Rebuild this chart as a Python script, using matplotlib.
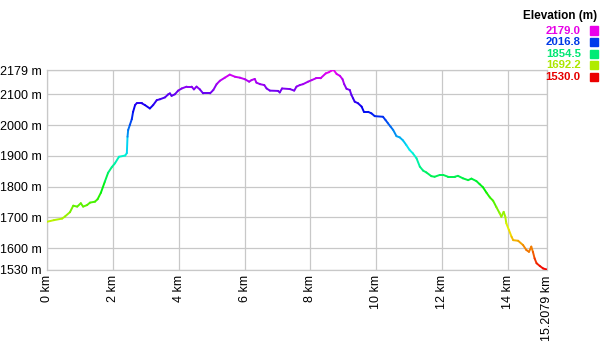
import matplotlib
matplotlib.use("Agg")
import matplotlib.pyplot as plt
import numpy as np
from matplotlib.collections import LineCollection
from matplotlib.colors import hsv_to_rgb

plt.rcParams['font.family'] = ['Liberation Sans', 'DejaVu Sans']

# elevation profile
dist_km = [0.0, 0.20, 0.45, 0.54, 0.69, 0.79, 0.91, 1.02, 1.09, 1.21, 1.30, 1.45, 1.53,
           1.63, 1.75, 1.85, 1.96, 2.06, 2.18, 2.37, 2.42, 2.44, 2.46, 2.51, 2.57, 2.61,
           2.67, 2.72, 2.87, 2.97, 3.12, 3.22, 3.33, 3.43, 3.58, 3.68, 3.73, 3.78, 3.88,
           3.98, 4.09, 4.24, 4.39, 4.46, 4.54, 4.64, 4.74, 4.95, 5.05, 5.15, 5.25, 5.40,
           5.55, 5.71, 5.86, 6.01, 6.14, 6.21, 6.31, 6.36, 6.47, 6.60, 6.67, 6.77, 7.02,
           7.07, 7.14, 7.38, 7.51, 7.58, 7.68, 7.78, 7.93, 8.04, 8.17, 8.31, 8.47, 8.57,
           8.64, 8.71, 8.80, 8.90, 8.98, 9.03, 9.10, 9.20, 9.25, 9.30, 9.35, 9.45, 9.56,
           9.63, 9.76, 9.86, 9.96, 10.21, 10.29, 10.36, 10.44, 10.52, 10.62, 10.72, 10.82,
           10.92, 11.02, 11.12, 11.23, 11.33, 11.43, 11.53, 11.68, 11.78, 11.94, 12.04,
           12.19, 12.39, 12.49, 12.64, 12.80, 12.90, 13.05, 13.15, 13.25, 13.36, 13.46,
           13.56, 13.66, 13.76, 13.81, 13.88, 13.93, 13.96, 14.04, 14.12, 14.17, 14.32,
           14.47, 14.57, 14.65, 14.72, 14.77, 14.82, 14.88, 14.98, 15.08, 15.2079]
elev_m = [1686, 1691, 1696, 1703, 1717, 1738, 1735, 1746, 1735, 1740, 1748, 1751, 1759,
          1780, 1816, 1845, 1863, 1876, 1897, 1901, 1909, 1962, 1984, 2000, 2019, 2043,
          2065, 2071, 2071, 2065, 2054, 2065, 2081, 2084, 2090, 2100, 2103, 2095, 2100,
          2112, 2119, 2125, 2125, 2116, 2125, 2116, 2103, 2103, 2114, 2133, 2144, 2154,
          2164, 2157, 2154, 2149, 2141, 2146, 2150, 2138, 2133, 2130, 2119, 2112, 2111,
          2106, 2119, 2117, 2112, 2125, 2130, 2133, 2141, 2146, 2152, 2152, 2168, 2172,
          2177, 2179, 2166, 2160, 2149, 2133, 2118, 2114, 2098, 2087, 2076, 2071, 2060,
          2043, 2043, 2038, 2029, 2027, 2016, 2006, 1995, 1984, 1964, 1960, 1950,
          1935, 1919, 1908, 1892, 1865, 1852, 1846, 1834, 1832, 1838, 1838,
          1832, 1832, 1835, 1827, 1821, 1826, 1818, 1808, 1798, 1780, 1765,
          1754, 1733, 1713, 1702, 1718, 1702, 1681, 1659, 1637, 1626, 1624,
          1610, 1594, 1588, 1605, 1588, 1567, 1551, 1542, 1534, 1530]

x_ticks = [0, 2, 4, 6, 8, 10, 12, 14, 15.2079]
y_ticks = [1530, 1600, 1700, 1800, 1900, 2000, 2100, 2179]
legend_vals = [2179.0, 2016.8, 1854.5, 1692.2, 1530.0]

E_MIN, E_MAX = 1530.0, 2179.0


def elev_color(e, v=1.0):
    h = (e - E_MIN) / (E_MAX - E_MIN) * 300.0 / 360.0
    return hsv_to_rgb([h, 1.0, v])


fig = plt.figure(figsize=(6, 3.45), dpi=100)
ax = fig.add_axes([0.0788, 0.2183, 0.8334, 0.5788])

x = np.array(dist_km)
y = np.array(elev_m, dtype=float)
segs = np.stack([np.column_stack([x[:-1], y[:-1]]), np.column_stack([x[1:], y[1:]])], axis=1)
cols = [elev_color((a + b) / 2, 0.95) for a, b in zip(y[:-1], y[1:])]
ax.add_collection(LineCollection(segs, colors=cols, linewidths=1.4, capstyle='round', zorder=3))

ax.set_xlim(0, 15.2079)
ax.set_ylim(E_MIN, E_MAX)
ax.set_xticks(x_ticks)
ax.set_xticklabels(['%g km' % t for t in x_ticks], rotation=90, fontsize=9)
ax.set_yticks(y_ticks)
ax.set_yticklabels(['%d m' % t for t in y_ticks], fontsize=9)
ax.tick_params(length=0, pad=4)
ax.grid(True, color='#c8c8c8', linewidth=0.9)
ax.set_axisbelow(True)
for s in ax.spines.values():
    s.set_color('#c8c8c8')
    s.set_linewidth(0.9)

# colour key, top right
fig.text(0.995, 0.955, 'Elevation (m)', ha='right', va='center', fontsize=8.5, fontweight='bold')
for i, v in enumerate(legend_vals):
    yy = 1 - (30.5 + i * 11.6) / 345
    fig.text(0.968, yy, '%.1f' % v, ha='right', va='center', fontsize=8.2,
             fontweight='bold', color=elev_color(v, 0.9))
    fig.patches.append(plt.Rectangle((589.5 / 600, yy - 4 / 345), 8 / 600, 8 / 345,
                                     transform=fig.transFigure, color=elev_color(v, 0.92)))

fig.savefig('out.png', dpi=100)
